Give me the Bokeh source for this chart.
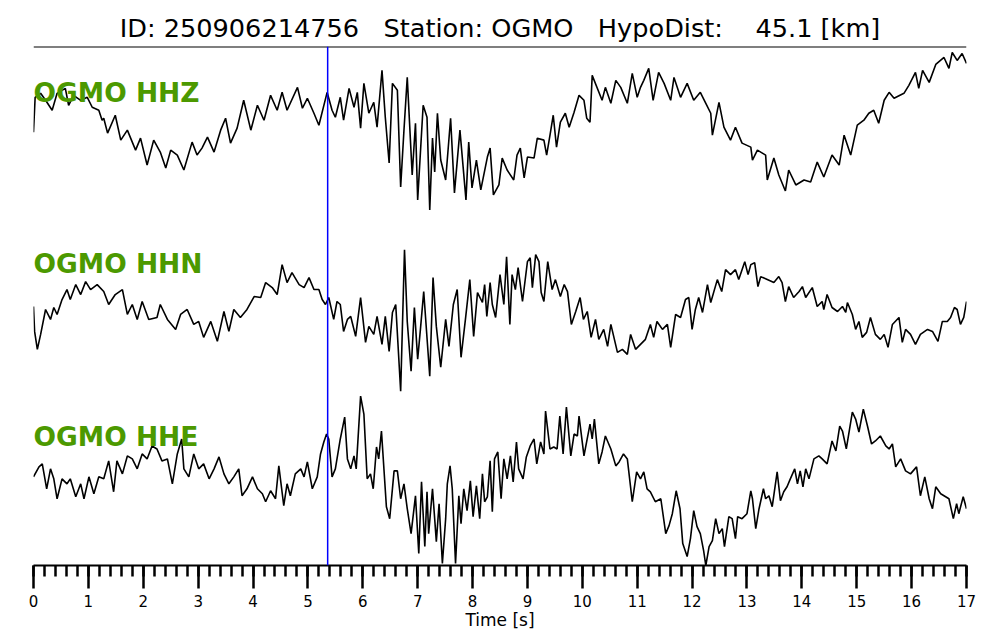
from bokeh.plotting import figure
from bokeh.models import Range1d, Span, Label, SingleIntervalTicker
from bokeh.embed import file_html
from bokeh.resources import INLINE

NB = "\u00a0"
TITLE = "ID: 250906214756" + NB * 3 + "Station: OGMO" + NB * 3 + "HypoDist:" + NB * 4 + "45.1 [km]"
STATION = "OGMO"
CHANNELS = ["HHZ", "HHN", "HHE"]
P_PICK = 5.36          # s, picked arrival
T_MAX = 17

# (time [s], amplitude [arb. units])
HHZ = [(0.00,-7),(0.03,28),(0.13,32),(0.22,25),(0.34,15),(0.43,32),(0.58,37),(0.64,20),(0.73,30),(0.86,25),
       (0.98,28),(1.07,18),(1.19,15),(1.25,5),(1.28,7),(1.35,-8),(1.49,10),(1.59,-15),(1.71,-5),(1.86,-25),
       (1.95,-13),(2.07,-40),(2.19,-15),(2.31,-27),(2.41,-43),(2.50,-25),(2.62,-30),(2.74,-45),(2.89,-17),(2.98,-30),
       (3.07,-23),(3.17,-12),(3.29,-27),(3.41,-5),(3.50,7),(3.59,-18),(3.71,-3),(3.83,25),(3.96,-5),(4.08,20),
       (4.20,5),(4.32,30),(4.44,15),(4.53,33),(4.62,15),(4.81,38),(4.90,17),(4.99,27),(5.11,12),(5.20,0),
       (5.35,33),(5.44,15),(5.50,8),(5.59,28),(5.65,5),(5.75,37),(5.84,18),(5.90,33),(5.96,-3),(6.02,42),
       (6.11,12),(6.20,23),(6.26,-2),(6.35,55),(6.41,8),(6.48,-38),(6.54,42),(6.63,35),(6.69,-62),(6.75,-5),
       (6.81,48),(6.90,-50),(6.96,2),(7.00,-75),(7.10,20),(7.17,8),(7.22,-85),(7.27,-13),(7.31,-47),(7.36,12),
       (7.42,-35),(7.51,-55),(7.60,7),(7.67,-68),(7.77,-5),(7.88,-75),(7.93,-17),(7.99,-63),(8.07,-35),(8.15,-65),
       (8.27,-32),(8.32,-23),(8.38,-70),(8.48,-60),(8.54,-33),(8.63,-45),(8.75,-55),(8.81,-30),(8.87,-23),(8.94,-53),
       (9.00,-32),(9.12,-33),(9.18,-13),(9.30,-15),(9.35,-30),(9.42,-7),(9.47,10),(9.53,-22),(9.60,3),(9.69,12),
       (9.76,-2),(9.85,13),(9.94,30),(10.03,25),(10.08,7),(10.14,3),(10.18,50),(10.36,25),(10.42,38),(10.52,22),
       (10.61,45),(10.70,38),(10.82,22),(10.91,52),(11.00,28),(11.06,38),(11.12,45),(11.21,57),(11.29,25),(11.39,53),
       (11.49,42),(11.61,25),(11.67,48),(11.79,28),(11.91,42),(12.03,25),(12.15,33),(12.25,22),(12.34,12),(12.37,-10),
       (12.49,23),(12.58,-2),(12.70,-15),(12.79,-2),(12.91,-18),(13.07,-22),(13.10,-35),(13.19,-25),(13.34,-30),(13.37,-55),
       (13.49,-33),(13.58,-50),(13.70,-66),(13.76,-45),(13.89,-60),(14.04,-55),(14.16,-57),(14.28,-37),(14.40,-52),(14.55,-30),
       (14.68,-40),(14.77,-10),(14.89,-30),(15.01,0),(15.13,5),(15.22,12),(15.31,15),(15.40,2),(15.50,25),(15.59,33),
       (15.68,27),(15.86,32),(15.95,40),(16.07,53),(16.13,37),(16.20,55),(16.32,43),(16.44,61),(16.59,68),(16.68,57),
       (16.74,73),(16.83,65),(16.92,72),(17.00,62)]

HHN = [(0.00,3),(0.02,-22),(0.07,-40),(0.13,-25),(0.22,0),(0.31,-10),(0.37,2),(0.43,-5),(0.52,10),(0.61,20),
       (0.67,10),(0.77,25),(0.86,15),(0.95,28),(1.04,20),(1.16,25),(1.28,18),(1.37,5),(1.49,15),(1.62,20),
       (1.71,-5),(1.80,5),(1.89,-10),(1.98,8),(2.10,-10),(2.25,-8),(2.31,5),(2.44,-10),(2.59,-20),(2.68,-5),
       (2.80,0),(2.92,-15),(3.01,-12),(3.10,-28),(3.23,-12),(3.35,-32),(3.47,-2),(3.56,-22),(3.65,0),(3.77,-8),
       (3.89,0),(4.02,13),(4.14,12),(4.23,27),(4.35,22),(4.44,15),(4.53,45),(4.62,27),(4.71,37),(4.84,25),
       (4.93,22),(5.02,32),(5.11,20),(5.20,20),(5.26,10),(5.32,5),(5.38,12),(5.47,-10),(5.53,8),(5.59,5),
       (5.65,-22),(5.72,-10),(5.78,-7),(5.87,-27),(5.96,12),(6.05,-33),(6.11,-17),(6.20,-25),(6.26,-7),(6.35,-35),
       (6.41,-7),(6.48,-42),(6.54,-3),(6.60,5),(6.69,-82),(6.76,60),(6.81,-12),(6.88,-62),(6.94,2),(7.00,-50),
       (7.05,-20),(7.11,18),(7.22,-67),(7.28,32),(7.34,-17),(7.42,-58),(7.51,-10),(7.57,-37),(7.65,5),(7.72,20),
       (7.79,-48),(7.87,-10),(7.95,30),(8.02,-27),(8.09,17),(8.18,7),(8.22,25),(8.26,-7),(8.32,27),(8.36,5),
       (8.42,-8),(8.50,35),(8.57,5),(8.62,53),(8.68,-15),(8.72,35),(8.78,20),(8.83,42),(8.91,8),(9.00,48),
       (9.05,52),(9.09,22),(9.15,55),(9.21,48),(9.25,17),(9.30,8),(9.37,48),(9.45,20),(9.51,30),(9.60,13),
       (9.67,25),(9.73,18),(9.80,-15),(9.88,-2),(9.96,12),(10.02,-10),(10.09,-2),(10.16,-28),(10.24,-10),(10.30,-30),
       (10.39,-20),(10.46,-37),(10.52,-15),(10.64,-43),(10.73,-40),(10.82,-45),(10.88,-25),(10.97,-40),(11.06,-35),(11.15,-30),
       (11.24,-15),(11.30,-28),(11.36,-12),(11.46,-20),(11.55,-15),(11.61,-38),(11.70,-5),(11.79,-8),(11.88,10),(11.94,12),
       (12.00,-20),(12.06,0),(12.12,12),(12.19,-3),(12.28,25),(12.34,7),(12.46,30),(12.54,18),(12.61,40),(12.70,35),
       (12.79,40),(12.85,30),(12.96,48),(13.02,35),(13.07,45),(13.14,47),(13.20,23),(13.25,33),(13.37,30),(13.49,27),
       (13.58,33),(13.64,27),(13.70,8),(13.76,23),(13.85,12),(13.95,18),(14.01,23),(14.07,12),(14.19,22),(14.28,3),
       (14.37,8),(14.40,0),(14.46,15),(14.55,2),(14.65,-2),(14.74,3),(14.80,-3),(14.83,7),(14.92,-5),(14.98,-20),
       (15.04,-12),(15.10,-28),(15.18,-23),(15.25,-8),(15.34,-25),(15.43,-30),(15.50,-25),(15.57,-38),(15.65,-15),(15.77,-8),
       (15.83,-33),(15.89,-20),(15.98,-25),(16.07,-35),(16.16,-25),(16.29,-20),(16.38,-22),(16.48,-32),(16.56,-12),(16.65,-12),
       (16.71,-8),(16.78,2),(16.83,0),(16.89,-15),(16.95,-8),(17.00,8)]

HHE = [(0.00,2),(0.10,12),(0.16,15),(0.24,-10),(0.31,10),(0.37,0),(0.43,-20),(0.52,0),(0.61,-5),(0.67,0),
       (0.77,-18),(0.86,-5),(0.92,-20),(1.01,2),(1.10,-15),(1.19,2),(1.28,0),(1.37,18),(1.46,-13),(1.52,18),
       (1.62,5),(1.71,23),(1.80,20),(1.89,10),(1.98,25),(2.07,20),(2.16,33),(2.25,30),(2.34,18),(2.44,20),
       (2.53,-5),(2.62,25),(2.70,40),(2.74,10),(2.83,2),(2.92,25),(3.01,10),(3.10,15),(3.20,0),(3.29,10),
       (3.38,22),(3.47,5),(3.56,-5),(3.65,2),(3.74,10),(3.80,-17),(3.89,-10),(3.99,2),(4.08,-10),(4.17,-15),
       (4.23,-23),(4.32,-12),(4.41,-20),(4.47,13),(4.56,-27),(4.62,-5),(4.68,-17),(4.77,5),(4.87,10),(4.93,2),
       (4.99,17),(5.08,-10),(5.17,2),(5.23,25),(5.29,37),(5.34,45),(5.38,40),(5.44,2),(5.50,10),(5.59,40),
       (5.67,62),(5.72,20),(5.78,10),(5.84,23),(5.88,10),(5.96,83),(6.02,65),(6.08,0),(6.14,5),(6.19,-10),
       (6.25,32),(6.29,20),(6.34,48),(6.43,-28),(6.49,-40),(6.57,8),(6.63,8),(6.69,-20),(6.75,-5),(6.81,-30),
       (6.88,-55),(6.96,-17),(7.02,-75),(7.07,-3),(7.13,-68),(7.17,-13),(7.20,-55),(7.27,-10),(7.34,-63),(7.39,-25),
       (7.45,-85),(7.51,-40),(7.54,-5),(7.59,13),(7.63,-10),(7.69,-85),(7.75,-17),(7.79,-45),(7.84,-10),(7.90,-32),
       (7.96,-2),(8.01,-38),(8.07,-7),(8.13,-40),(8.18,5),(8.22,-23),(8.27,-18),(8.32,18),(8.36,-33),(8.40,20),
       (8.46,27),(8.52,-20),(8.57,20),(8.63,0),(8.69,23),(8.74,-3),(8.80,37),(8.84,10),(8.92,0),(8.98,22),
       (9.05,33),(9.12,40),(9.17,15),(9.24,37),(9.30,25),(9.33,68),(9.41,30),(9.48,32),(9.54,30),(9.59,63),
       (9.65,25),(9.71,72),(9.79,23),(9.85,45),(9.91,43),(9.94,63),(10.03,23),(10.14,55),(10.18,40),(10.22,60),
       (10.30,15),(10.36,27),(10.42,43),(10.52,30),(10.61,13),(10.67,17),(10.75,25),(10.82,20),(10.91,-23),(10.99,7),
       (11.06,0),(11.12,7),(11.18,-10),(11.24,-13),(11.33,-23),(11.43,-20),(11.52,-55),(11.58,-47),(11.64,-35),(11.71,-12),
       (11.78,-30),(11.83,-65),(11.91,-78),(11.97,-60),(12.03,-32),(12.09,-48),(12.15,-55),(12.21,-72),(12.25,-87),(12.31,-68),
       (12.37,-62),(12.43,-40),(12.49,-55),(12.55,-50),(12.59,-68),(12.67,-38),(12.73,-40),(12.79,-60),(12.83,-38),(12.91,-40),
       (13.00,-35),(13.07,-12),(13.10,-20),(13.16,-50),(13.22,-30),(13.30,-10),(13.34,-20),(13.40,-17),(13.46,-28),(13.55,7),
       (13.61,-22),(13.67,-13),(13.73,-8),(13.79,0),(13.87,10),(13.92,-5),(13.97,8),(14.02,-8),(14.07,10),(14.13,0),
       (14.22,20),(14.31,23),(14.37,20),(14.46,15),(14.55,38),(14.62,28),(14.69,53),(14.74,48),(14.81,30),(14.92,67),
       (14.98,60),(15.04,47),(15.12,70),(15.20,52),(15.27,35),(15.34,38),(15.43,43),(15.53,33),(15.59,30),(15.65,35),
       (15.71,12),(15.80,20),(15.89,8),(15.98,5),(16.09,12),(16.16,-17),(16.24,2),(16.32,-20),(16.38,-30),(16.44,-8),
       (16.53,-15),(16.62,-18),(16.68,-20),(16.76,-40),(16.82,-25),(16.86,-35),(16.94,-18),(17.00,-30)]

TRACES = [HHZ, HHN, HHE]

# layout (vertical placement of each trace, in the plot's y units)
TRACE_OFFSETS = [-125, -310, -480]
LABEL_Y = [-92, -264, -438]
Y_BOTTOM, Y_TOP = -567, -46
GREEN = "#4c9900"

p = figure(width=984, height=632, output_backend="svg", toolbar_location=None,
           x_range=Range1d(0, T_MAX), y_range=Range1d(Y_BOTTOM, Y_TOP),
           min_border_left=33, min_border_right=18, min_border_top=46, min_border_bottom=65,
           title=TITLE)
p.title.align = "center"
p.title.text_font = "DejaVu Sans"
p.title.text_font_size = "25.6px"
p.title.text_font_style = "normal"
p.title.text_color = "black"
p.title.standoff = 7

p.grid.visible = False
p.yaxis.visible = False
p.outline_line_color = None
p.background_fill_color = "white"
p.border_fill_color = "white"

xa = p.xaxis[0]
xa.ticker = SingleIntervalTicker(interval=1, num_minor_ticks=5)
xa.axis_line_width = 2
xa.axis_line_color = "black"
xa.major_tick_out = 23
xa.major_tick_in = 0
xa.minor_tick_out = 11
xa.minor_tick_in = 0
xa.major_tick_line_width = 2.5
xa.minor_tick_line_width = 2.5
xa.major_tick_line_color = "black"
xa.minor_tick_line_color = "black"
xa.major_label_text_font = "DejaVu Sans"
xa.major_label_text_font_size = "15px"
xa.major_label_text_color = "black"
xa.major_label_standoff = 6
xa.axis_label = "Time [s]"
xa.axis_label_text_font = "DejaVu Sans"
xa.axis_label_text_font_size = "17px"
xa.axis_label_text_font_style = "normal"
xa.axis_label_text_color = "black"
xa.axis_label_standoff = 0

# top frame line
p.add_layout(Span(location=Y_TOP, dimension="width", line_color="black", line_width=2))

for trace, off, ly, ch in zip(TRACES, TRACE_OFFSETS, LABEL_Y, CHANNELS):
    ts = [t for t, a in trace]
    ys = [off + a for t, a in trace]
    p.line(ts, ys, line_color="black", line_width=1.6)
    p.add_layout(Label(x=0, y=ly, text=f"{STATION} {ch}", text_color=GREEN,
                       text_font="DejaVu Sans", text_font_size="26.5px", text_font_style="bold",
                       text_baseline="alphabetic", x_offset=0))

p.add_layout(Span(location=P_PICK, dimension="height", line_color="blue", line_width=1.5))

open("out.html", "w").write(file_html(p, INLINE))
